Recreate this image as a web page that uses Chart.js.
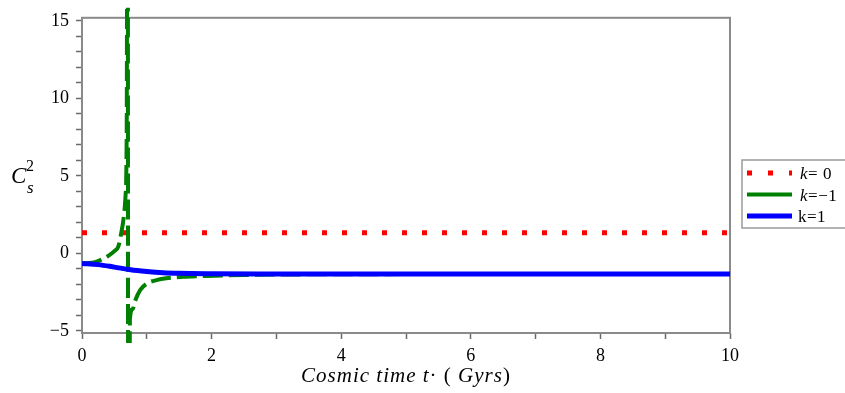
<!doctype html>
<html>

<head>
    <meta charset="utf-8">
    <title>Velocidade do som ao quadrado</title>
    <script src="https://cdn.jsdelivr.net/npm/chart.js"></script>
    <style>
        html, body { margin: 0; padding: 0; background: #fff; }
        #caixa { width: 845px; height: 393px; }
    </style>
</head>

<body>
    <div id="caixa"><canvas id="grafico"></canvas></div>

    <script>
        // k = 0 (constante)
        var tempoK0 = [0, 10];
        var valoresK0 = [1.33, 1.33];

        // k = -1 (diverge perto de t = 0.71)
        var tempoKm1 = [0, 0.1, 0.2, 0.3, 0.4, 0.5, 0.56, 0.6, 0.64, 0.67, 0.69, 0.705,
                        0.715, 0.74, 0.78, 0.82, 0.9, 1.02, 1.15, 1.3, 1.6, 1.93, 2.5, 3, 4, 6, 8, 10];
        var valoresKm1 = [-0.63, -0.62, -0.56, -0.4, -0.17, 0.15, 0.44, 1.2, 2.2, 3.6, 8, 40,
                          -40, -4.2, -3.6, -3.05, -2.35, -1.9, -1.72, -1.6, -1.5, -1.45, -1.39, -1.36, -1.34, -1.33, -1.33, -1.33];

        // k = 1
        var tempoK1 = [0, 0.25, 0.5, 0.75, 1.0, 1.25, 1.5, 2, 2.75, 3, 4, 6, 8, 10];
        var valoresK1 = [-0.65, -0.72, -0.88, -1.05, -1.16, -1.24, -1.28, -1.31, -1.33, -1.33, -1.33, -1.33, -1.33, -1.33];

        var rotulosX = [0, 2, 4, 6, 8, 10];
        var rotulosY = [-5, 0, 5, 10, 15];

        var legendas = ['k= 0', 'k=\u22121', 'k=1'];
        var kItalico = [true, true, false];

        function pontos(t, v) {
            return t.map((x, i) => ({ x: x, y: v[i] }));
        }

        // marcas em todos os inteiros do intervalo
        function ticksInteiros(s) {
            var lista = [];
            for (var v = Math.ceil(s.min); v <= Math.floor(s.max); v++) lista.push({ value: v });
            s.ticks = lista;
        }

        var serif = "'Liberation Serif', 'DejaVu Serif', serif";

        var moldura = {
            id: 'moldura',
            beforeDatasetsDraw(chart) {
                var ctx = chart.ctx, a = chart.chartArea;
                ctx.save();
                ctx.strokeStyle = '#8a8a8a';
                ctx.lineWidth = 2;
                ctx.strokeRect(a.left, a.top, a.right - a.left, a.bottom - a.top);
                ctx.restore();
            }
        };

        var textos = {
            id: 'textos',
            afterDraw(chart) {
                var ctx = chart.ctx, a = chart.chartArea;
                ctx.save();
                ctx.fillStyle = '#000';
                ctx.textBaseline = 'alphabetic';

                // titulo do eixo y: C_s^2
                ctx.font = 'italic 23px ' + serif;
                ctx.fillText('C', 11, 183);
                ctx.font = '16px ' + serif;
                ctx.fillText('2', 26, 171);
                ctx.font = 'italic 17px ' + serif;
                ctx.fillText('s', 27, 193);

                // titulo do eixo x
                var partes = [
                    ['Cosmic time t', true],
                    ['\u00b7 ', false],
                    ['( ', false],
                    ['Gyrs', true],
                    [')', false]
                ];
                ctx.letterSpacing = '1px';
                var larg = 0;
                partes.forEach(p => {
                    ctx.font = (p[1] ? 'italic ' : '') + '21px ' + serif;
                    larg += ctx.measureText(p[0]).width;
                });
                var x = (a.left + a.right) / 2 - larg / 2;
                partes.forEach(p => {
                    ctx.font = (p[1] ? 'italic ' : '') + '21px ' + serif;
                    ctx.fillText(p[0], x, 382);
                    x += ctx.measureText(p[0]).width;
                });

                // legenda
                ctx.letterSpacing = '0.5px';
                ctx.strokeStyle = '#9a9a9a';
                ctx.lineWidth = 1.5;
                ctx.strokeRect(742, 160, 112, 68);
                chart.data.datasets.forEach((ds, i) => {
                    var y = 173 + i * 21.5;
                    ctx.save();
                    ctx.strokeStyle = ds.borderColor;
                    ctx.lineWidth = ds.borderWidth;
                    ctx.setLineDash(ds.tracoLegenda || []);
                    ctx.beginPath();
                    ctx.moveTo(747, y);
                    ctx.lineTo(792, y);
                    ctx.stroke();
                    ctx.restore();

                    var tx = kItalico[i] ? 800 : 798;
                    var txt = legendas[i];
                    ctx.font = (kItalico[i] ? 'italic ' : '') + '17px ' + serif;
                    ctx.fillText(txt[0], tx, y + 6);
                    tx += ctx.measureText(txt[0]).width;
                    ctx.font = '17px ' + serif;
                    ctx.fillText(txt.slice(1), tx, y + 6);
                });
                ctx.restore();
            }
        };

        var grafico = new Chart(document.getElementById('grafico').getContext('2d'), {
            type: 'line',
            data: {
                datasets: [{
                    label: legendas[0],
                    data: pontos(tempoK0, valoresK0),
                    borderColor: '#ff0000',
                    borderWidth: 5,
                    borderDash: [5, 15],
                    tracoLegenda: [5, 16],
                    pointRadius: 0,
                    order: 2
                }, {
                    label: legendas[1],
                    data: pontos(tempoKm1, valoresKm1),
                    borderColor: '#008000',
                    borderWidth: 4,
                    borderDash: [20, 6],
                    cubicInterpolationMode: 'monotone',
                    pointRadius: 0,
                    clip: { left: 0, top: 10, right: 0, bottom: 10 },
                    order: 1
                }, {
                    label: legendas[2],
                    data: pontos(tempoK1, valoresK1),
                    borderColor: '#0000ff',
                    borderWidth: 5,
                    cubicInterpolationMode: 'monotone',
                    pointRadius: 0,
                    order: 0
                }]
            },
            options: {
                responsive: true,
                maintainAspectRatio: false,
                animation: false,
                layout: {
                    padding: { left: 0, top: 13, right: 115, bottom: 0 }
                },
                plugins: {
                    legend: { display: false },
                    tooltip: { enabled: false }
                },
                scales: {
                    x: {
                        type: 'linear',
                        min: 0,
                        max: 10,
                        border: { display: false },
                        grid: {
                            drawOnChartArea: false,
                            drawTicks: true,
                            tickLength: 6,
                            tickColor: '#6a6a6a',
                            tickWidth: 1.5
                        },
                        ticks: {
                            autoSkip: false,
                            maxRotation: 0,
                            padding: 6,
                            color: '#000',
                            font: { family: serif, size: 18 },
                            callback: v => rotulosX.includes(v) ? String(v) : ''
                        },
                        afterBuildTicks: ticksInteiros,
                        afterFit: s => { s.height = 60; }
                    },
                    y: {
                        type: 'linear',
                        min: -5.13,
                        max: 15.2,
                        border: { display: false },
                        grid: {
                            drawOnChartArea: false,
                            drawTicks: true,
                            tickLength: 6,
                            tickColor: '#6a6a6a',
                            tickWidth: 1.5
                        },
                        ticks: {
                            autoSkip: false,
                            padding: 7,
                            color: '#000',
                            font: { family: serif, size: 18 },
                            callback: v => rotulosY.includes(v) ? (v < 0 ? '\u2212' + Math.abs(v) : String(v)) : ''
                        },
                        afterBuildTicks: ticksInteiros,
                        afterFit: s => { s.width = 82; }
                    }
                }
            },
            plugins: [moldura, textos]
        });
    </script>
</body>

</html>
